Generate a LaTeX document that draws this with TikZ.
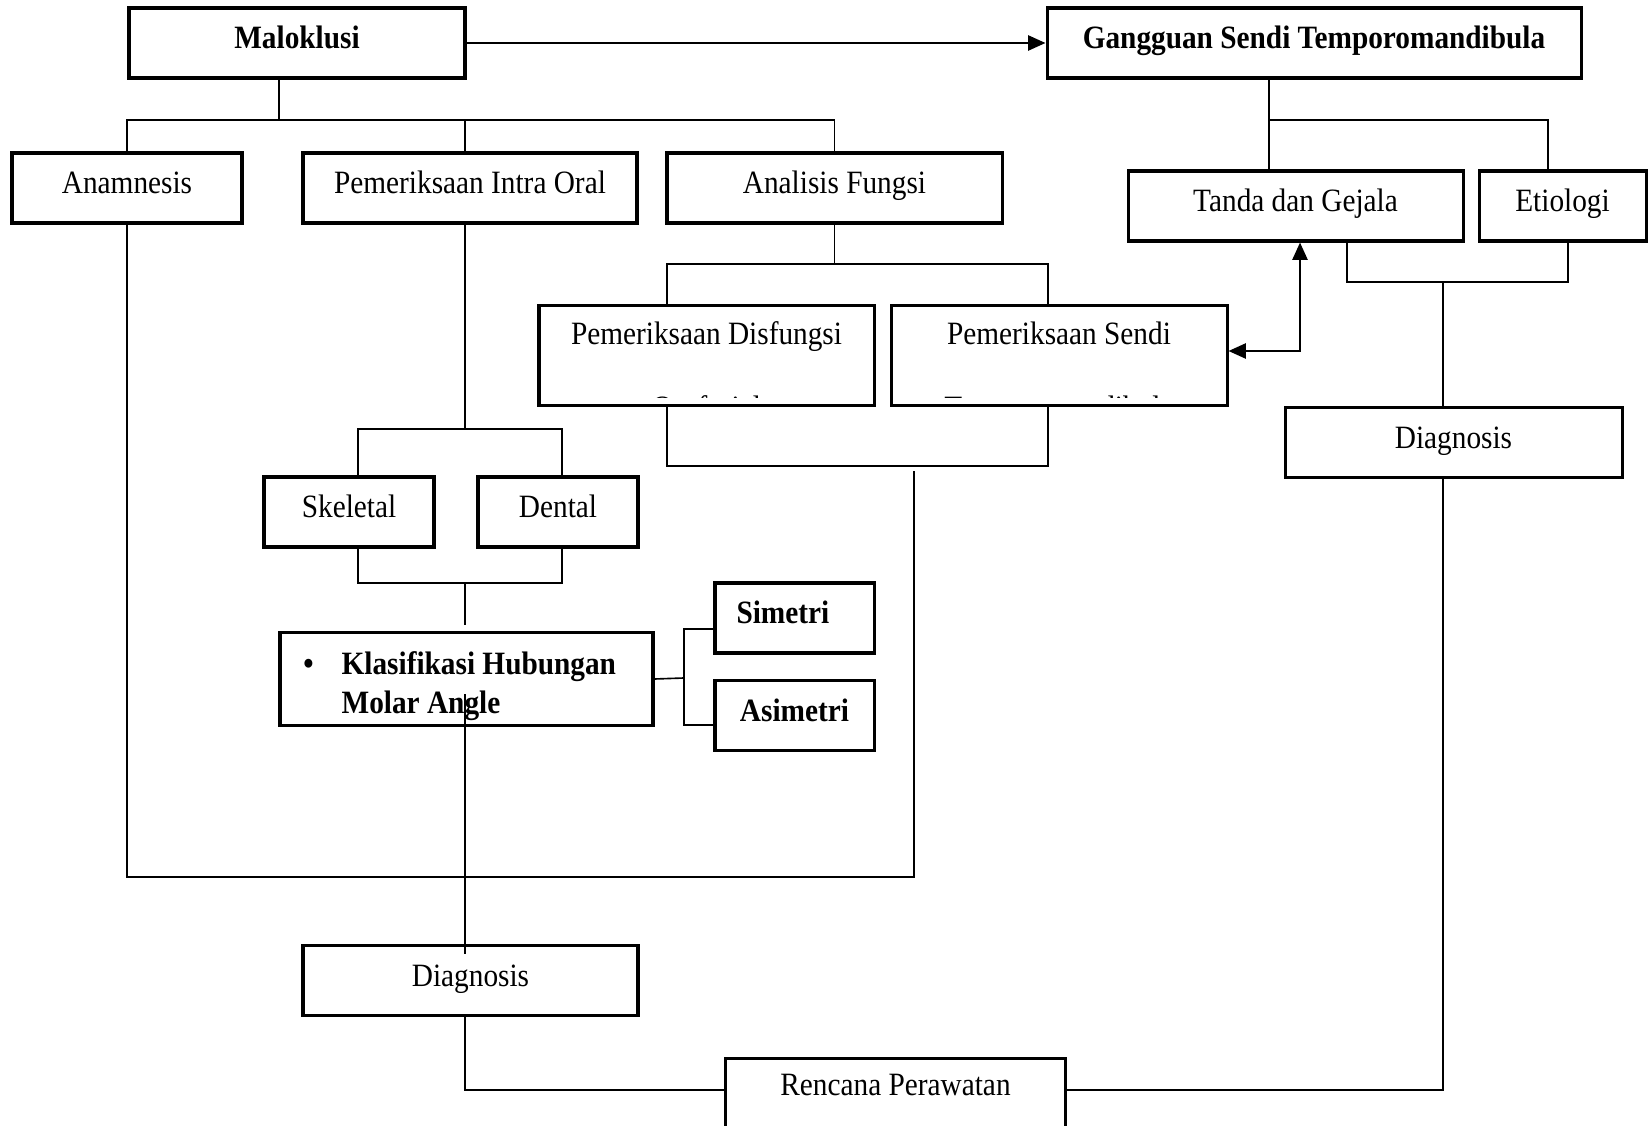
\documentclass[tikz,border=0pt]{standalone}
\usepackage{fontspec}
\setmainfont{Liberation Serif}[FakeStretch=0.9]
\usetikzlibrary{arrows.meta,calc}

\begin{document}
\begin{tikzpicture}[x=0.43pt,y=-0.43pt,
  box/.style={draw,line width=1.3pt,inner sep=0pt,minimum height=30.1pt,
    text height=9.8pt,text depth=4.9pt,font=\fontsize{14pt}{17pt}\selectfont},
  wd/.style={minimum width=#1*0.43pt},
  txt/.style={inner sep=0pt,font=\fontsize{14pt}{17pt}\selectfont},
  conn/.style={line width=0.7pt},
  arr/.style={line width=1pt,-{Triangle[length=7.5pt,width=6.5pt]}},
  dbl/.style={line width=1pt,{Triangle[length=7.5pt,width=6.5pt]}-{Triangle[length=7.5pt,width=6.5pt]}}]
\useasboundingbox[fill=white](0,0) rectangle (1648,1126);
\node[box,wd=336](malo) at (297,43){\textbf{Maloklusi}};
\node[box,wd=534](gsj) at (1314,43){\textbf{Gangguan Sendi Temporomandibula}};
\node[box,wd=230](anam) at (127,188){Anamnesis};
\node[box,wd=334](pio) at (470,188){Pemeriksaan Intra Oral};
\node[box,wd=335](af) at (834.5,188){Analisis Fungsi};
\node[box,wd=335](tdg) at (1295.5,206){Tanda dan Gejala};
\node[box,wd=167](etio) at (1562.5,206){Etiologi};
\node[box,wd=335,minimum height=43.4pt](pd) at (706.5,355.5){};
\node[box,wd=336,minimum height=43.4pt](ps) at (1059,355.5){};
\node[box,wd=337](dg2) at (1453.5,442.5){Diagnosis};
\node[box,wd=170](skel) at (349,512){Skeletal};
\node[box,wd=160](dent) at (558,512){Dental};
\node[box,wd=373,minimum height=39.6pt](klas) at (466.5,679){};
\node[box,wd=159](sim) at (794.5,618){\textbf{Simetri}\kern10pt};
\node[box,wd=159](asim) at (794.5,715.5){\textbf{Asimetri}};
\node[box,wd=335](dg1) at (470.5,980.5){Diagnosis};
\node[box,wd=337,draw=none,minimum height=25.8pt](renc) at (895.5,1090){Rencana Perawatan};
\draw[line width=1.3pt]([yshift=-12pt]renc.south west) |- (renc.north east) -- ([yshift=-12pt]renc.south east);
\begin{scope}
\clip(pd.north west) rectangle ([yshift=4.3pt]ps.south east);
\node[txt,anchor=base](pdt1) at (706.5,345){Pemeriksaan Disfungsi};
\node[txt,anchor=base](pdt2) at (706.5,419){Orofasial};
\node[txt,anchor=base](pst1) at (1059,345){Pemeriksaan Sendi};
\node[txt,anchor=base](pst2) at (1059,419){Temporomandibula};
\end{scope}
\node[txt,anchor=west,font=\fontsize{14pt}{17pt}\selectfont\bfseries](klast) at (303,686)
  {\begin{tabular}{@{}l@{\hspace{12pt}}l@{}}\textbullet&Klasifikasi Hubungan\\&Molar Angle\end{tabular}};
\coordinate(m1) at (279,120);
\coordinate(g1) at (1269,120);
\coordinate(g2) at (1548,120);
\coordinate(t1) at (1347,282);
\coordinate(t2) at (1568,282);
\coordinate(t3) at (1443,282);
\coordinate(a1) at (667,264);
\coordinate(a2) at (1048,264);
\coordinate(p1) at (667,466);
\coordinate(p2) at (1048,466);
\coordinate(d1) at (1300,351);
\coordinate(s0) at (465,429);
\coordinate(s1) at (358,429);
\coordinate(s2) at (562,429);
\coordinate(j0) at (465,583);
\coordinate(j1) at (358,583);
\coordinate(j2) at (562,583);
\coordinate(j3) at (465,625);
\coordinate(f0) at (684,678);
\coordinate(f1) at (684,629);
\coordinate(f2) at (684,725);
\coordinate(k1) at (465,694);
\coordinate(k2) at (465,954);
\coordinate(l2) at (914,877);
\coordinate(l3) at (914,471);
\draw[arr](malo.east) -- (gsj.west);
\draw[conn](m1 |- malo.south) -- (m1);
\draw[conn](anam.north) |- (m1) -| (af.north);
\draw[conn](s0 |- pio.north) -- (s0 |- m1);
\draw[conn](g1 |- gsj.south) -- (g1 |- tdg.north);
\draw[conn](g1) -- (g2) -- (g2 |- etio.north);
\draw[conn](t1 |- tdg.south) -- (t1) -- (t2) -- (t2 |- etio.south);
\draw[conn](t3) -- (t3 |- dg2.north);
\draw[conn](af.south) -- (af.south |- a1);
\draw[conn](a1 |- pd.north) -- (a1) -- (a2) -- (a2 |- ps.north);
\draw[conn](p1 |- pd.south) -- (p1) -- (p2) -- (p2 |- ps.south);
\draw[dbl](ps.east |- d1) -- (d1) -- (d1 |- tdg.south);
\draw[conn](s0 |- pio.south) -- (s0);
\draw[conn](s1 |- skel.north) -- (s1) -- (s2) -- (s2 |- dent.north);
\draw[conn](j1 |- skel.south) -- (j1) -- (j2) -- (j2 |- dent.south);
\draw[conn](j0) -- (j3);
\draw[conn](klas.east) -- (f0);
\draw[conn](sim.west |- f1) -- (f1) -- (f2) -- (asim.west |- f2);
\draw[conn](k1) -- (k2);
\draw[conn](anam.south) |- (l2) -- (l3);
\draw[conn](k1 |- dg1.south) |- (renc.west);
\draw[conn](renc.east) -| (t3 |- dg2.south);
\end{tikzpicture}
\end{document}
